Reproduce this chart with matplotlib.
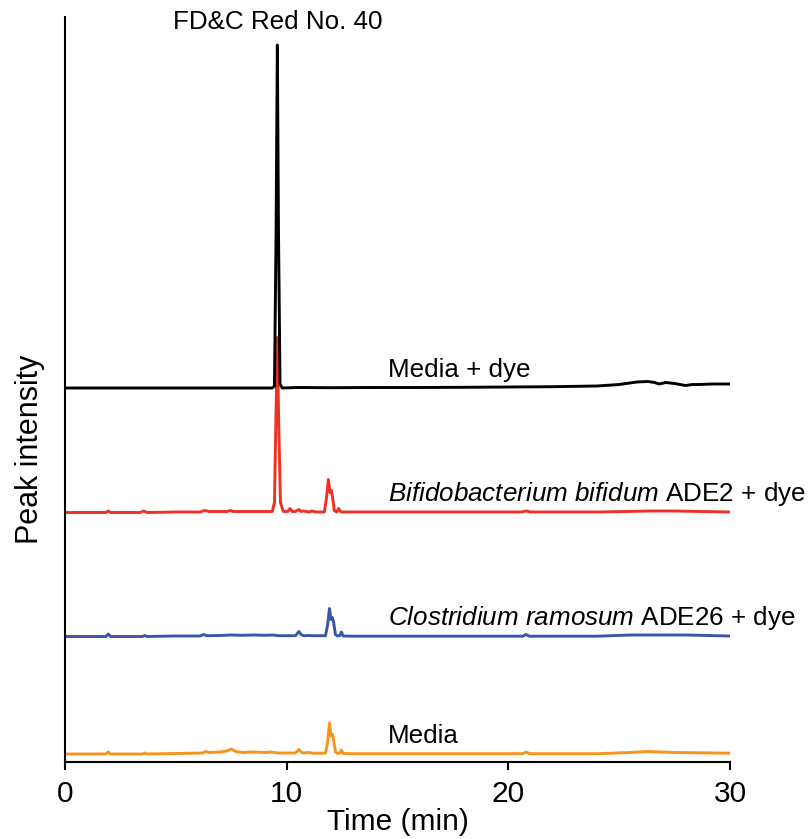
import matplotlib
matplotlib.use("Agg")
import matplotlib.pyplot as plt

plt.rcParams['font.family'] = ['Liberation Sans', 'DejaVu Sans']
plt.rcParams['mathtext.fontset'] = 'custom'
plt.rcParams['mathtext.rm'] = 'Liberation Sans'
plt.rcParams['mathtext.it'] = 'Liberation Sans:italic'

# Chromatogram traces: time (min) and signal above each trace's own baseline
media_dye_t = [0, 9.35, 9.45, 9.52, 9.58, 9.63, 9.70, 9.80, 10.5, 12, 14, 16, 18, 20, 22, 24, 25,
               25.8, 26.3, 26.6, 26.8, 27.1, 27.5, 28.0, 28.3, 28.6, 29.2, 30]
media_dye_v = [0, 0, 2, 150, 343, 160, 4, 0, 0.5, 0.3, 0.5, 0.5, 0.7, 1, 1.3, 2, 3.5,
               6, 6.5, 5.5, 4, 5.5, 4.5, 2.5, 3.5, 3.5, 4, 4]

bifido_t = [0, 1.85, 1.95, 2.05, 2.2, 3.4, 3.55, 3.7, 5, 6.1, 6.3, 6.5, 7.3, 7.45, 7.6, 9.0, 9.35,
            9.45, 9.52, 9.58, 9.64, 9.72, 9.85, 10.05, 10.15, 10.25, 10.4, 10.55, 10.65, 10.75,
            11.0, 11.15, 11.3, 11.7, 11.8, 11.88, 11.96, 12.02, 12.07, 12.15, 12.25, 12.35,
            12.42, 12.5, 13, 16, 20.6, 20.8, 21.0, 24, 26.5, 27.5, 30]
bifido_v = [0, 0, 1.5, 0, 0, 0, 1.5, 0, 0.5, 0.5, 2, 1, 1, 2, 1, 1, 1,
            10, 100, 175, 90, 10, 1, 1, 4, 1, 1, 3, 1, 1.5,
            0.5, 1.5, 0.5, 0.5, 15, 33, 20, 22, 15, 2, 0.5, 4,
            1, 0.5, 0.5, 0.5, 0.5, 1.5, 0.5, 0.5, 1.5, 1.5, 0.5]

clostr_t = [0, 1.85, 1.95, 2.05, 2.2, 3.5, 3.6, 3.7, 5, 6.1, 6.25, 6.4, 7.0, 7.5, 8.0, 8.5, 9.0,
            9.4, 9.6, 10.4, 10.55, 10.65, 10.75, 11.0, 11.2, 11.4, 11.75, 11.85, 11.93, 12.0,
            12.06, 12.12, 12.2, 12.3, 12.4, 12.47, 12.55, 13, 16, 20.65, 20.8, 20.95, 24,
            25.5, 26.5, 28, 30]
clostr_v = [0, 0, 2.5, 0, 0, 0, 1, 0, 0.5, 0.5, 2, 0.8, 1, 1.5, 1.2, 1.5, 1.2,
            1.5, 0.8, 0.8, 5, 2, 0.8, 1, 0.8, 0.8, 0.8, 12, 28, 17,
            19, 14, 2, 0.5, 1, 4.5, 0.5, 0.3, 0.3, 0.3, 2, 0.3, 0.3,
            1.5, 1.5, 1.5, 0.5]

media_t = [0, 1.85, 1.95, 2.05, 2.2, 3.5, 3.6, 3.7, 5, 6.2, 6.35, 6.5, 7.0, 7.3, 7.5, 7.7, 8.0,
           8.5, 9.0, 9.3, 9.6, 10.4, 10.55, 10.65, 10.75, 11.0, 11.2, 11.4, 11.75, 11.85, 11.93,
           12.0, 12.06, 12.12, 12.2, 12.3, 12.4, 12.47, 12.55, 13, 16, 20.65, 20.8, 20.95, 24,
           25.5, 26.3, 27.5, 30]
media_v = [0, 0, 2, 0, 0, 0, 1, 0, 0.5, 1, 2.5, 1.5, 2, 3, 5, 2.5, 1.5,
           2, 1.5, 2, 1, 1, 4.5, 2, 1, 1.5, 0.8, 0.8, 0.8, 12, 31,
           18, 20, 14, 2, 0.5, 1, 4, 0.5, 0.3, 0.3, 0.3, 2, 0.3, 0.3,
           1.5, 2.5, 1.5, 0.8]

traces = [
    (media_dye_t, media_dye_v, 374, 'black', 'Media + dye'),
    (bifido_t, bifido_v, 249.5, '#ee3124', r'$\it{Bifidobacterium\ bifidum}$ ADE2 + dye'),
    (clostr_t, clostr_v, 125.5, '#3a57a7', r'$\it{Clostridium\ ramosum}$ ADE26 + dye'),
    (media_t, media_v, 8, '#f7941d', 'Media'),
]

fig = plt.figure(figsize=(8.08, 8.39), dpi=100)
ax = fig.add_axes([65 / 808, 1 - 762 / 839, 665 / 808, 745 / 839])

# draw bottom traces first so the dye peak of the black trace sits on top
for t, v, off, col, lab in reversed(traces):
    ax.plot(t, [off + y for y in v], color=col, lw=2.1, solid_joinstyle='round', zorder=2)
    ax.text(14.55, off + 18, lab, fontsize=18.7, va='center', ha='left')

ax.text(9.58, 740, 'FD&C Red No. 40', fontsize=18.7, ha='center', va='center')

ax.set_xlim(0, 30)
ax.set_ylim(0, 745)
ax.set_xticks([0, 10, 20, 30])
ax.set_yticks([])
ax.tick_params(axis='x', labelsize=21.5, direction='out', length=6, width=1.5, pad=7)
ax.set_xlabel('Time (min)', fontsize=21.5, labelpad=0)
ax.set_ylabel('Peak intensity', fontsize=22)
ax.yaxis.set_label_coords(-0.03, 0.42)
ax.spines['top'].set_visible(False)
ax.spines['right'].set_visible(False)
for s in ['left', 'bottom']:
    ax.spines[s].set_linewidth(1.5)

fig.savefig('out.png', dpi=100)
